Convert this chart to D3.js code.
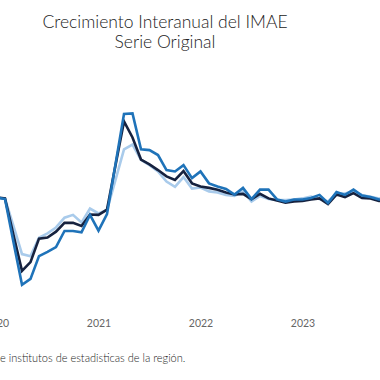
<!DOCTYPE html>
<html>
<head>
<meta charset="utf-8">
<script src="https://cdn.jsdelivr.net/npm/d3@7"></script>
<style>
  html, body { margin: 0; padding: 0; background: #fff; }
  svg { display: block; }
</style>
</head>
<body>
<div id="chart"></div>
<script>
// Monthly index: 0 = Jan 2020
const years = ["2020", "2021", "2022", "2023"]
const yearTicks = [0, 12, 24, 36]

// Year-over-year growth (%)
const seriesLight = [3.7, 3.6, -4.3, -12.3, -12.9, -7.6, -6.4, -4.7, -1.9, -1.1, -3.3, 0.7,
  -0.7, 0.3, 8.9, 17.6, 19.0, 14.6, 13.1, 11.3, 8.4, 6.9, 9.7, 6.4,
  6.7, 5.6, 5.3, 4.6, 4.3, 5.6, 2.7, 4.3, 3.4, 3.1, 3.1, 3.3,
  3.6, 4.1, 3.4, 2.7, 5.0, 5.0, 5.6, 4.6, 4.1, 3.6, 3.4]

const seriesDark = [3.9, 3.6, -6.9, -17.1, -14.6, -7.9, -7.6, -5.9, -3.4, -3.4, -4.3, -1.0,
  -1.1, 0.4, 13.1, 25.6, 21.0, 14.7, 13.3, 11.7, 9.9, 8.9, 11.4, 7.9,
  7.0, 6.6, 6.1, 5.3, 4.7, 4.9, 3.4, 4.9, 3.6, 3.0, 2.4, 2.7,
  2.9, 3.3, 3.6, 2.0, 4.7, 4.0, 5.1, 3.7, 3.6, 2.9, 2.6]

const seriesBlue = [3.9, 3.4, -8.9, -21.1, -19.4, -12.9, -11.7, -10.3, -5.7, -5.7, -6.1, -1.1,
  -5.6, -0.9, 13.4, 27.7, 27.9, 17.6, 17.4, 16.0, 11.7, 11.3, 13.1, 9.4,
  11.3, 7.9, 7.0, 6.3, 4.7, 6.6, 3.4, 6.1, 6.1, 3.3, 2.7, 3.3,
  3.3, 3.7, 4.6, 2.3, 5.4, 4.6, 6.1, 4.4, 4.0, 3.3, 3.1]

const width = 380
const height = 380
const font = "Lato, 'Open Sans', sans-serif"

const svg = d3.select("#chart")
  .append("svg")
  .attr("width", width)
  .attr("height", height)
  .style("font-family", font)

// Title, two lines
const titleLines = ["Crecimiento Interanual del IMAE", "Serie Original"]
svg.selectAll(".title")
  .data(titleLines)
  .enter()
  .append("text")
  .attr("class", "title")
  .attr("x", 165)
  .attr("y", (_, i) => 28 + i * 20)
  .attr("text-anchor", "middle")
  .attr("font-size", 17.5)
  .attr("font-weight", 300)
  .attr("fill", "#222")
  .text(d => d)

// Scales — month index to x, growth % to y
const x = d3.scaleLinear().domain([0, 12]).range([-3.5, 98.5])
const y = d3.scaleLinear().domain([-30, 30]).range([316, 106])

const line = d3.line()
  .x((_, i) => x(i))
  .y(d => y(d))

const series = [
  { data: seriesLight, color: "#a9cbeb" },
  { data: seriesDark, color: "#16223f" },
  { data: seriesBlue, color: "#1f73b9" }
]

svg.append("g")
  .selectAll(".series")
  .data(series)
  .enter()
  .append("path")
  .attr("class", "series")
  .attr("fill", "none")
  .attr("stroke", d => d.color)
  .attr("stroke-width", 2.6)
  .attr("d", d => line(d.data))

// x axis labels only, no domain line or ticks
const xAxis = d3.axisBottom(x)
  .tickValues(yearTicks)
  .tickFormat((_, i) => years[i])
  .tickSize(0)
  .tickPadding(0)

const axisG = svg.append("g")
  .attr("transform", "translate(0,320)")
  .call(xAxis)

axisG.select(".domain").remove()
axisG.selectAll("text")
  .attr("font-size", 10.5)
  .attr("font-family", font)
  .attr("fill", "#666")

// Source note (cut at the left edge)
svg.append("text")
  .attr("x", 0)
  .attr("y", 362)
  .attr("font-size", 11)
  .attr("font-weight", 300)
  .attr("fill", "#222")
  .text("e institutos de estadisticas de la región.")
</script>
</body>
</html>
